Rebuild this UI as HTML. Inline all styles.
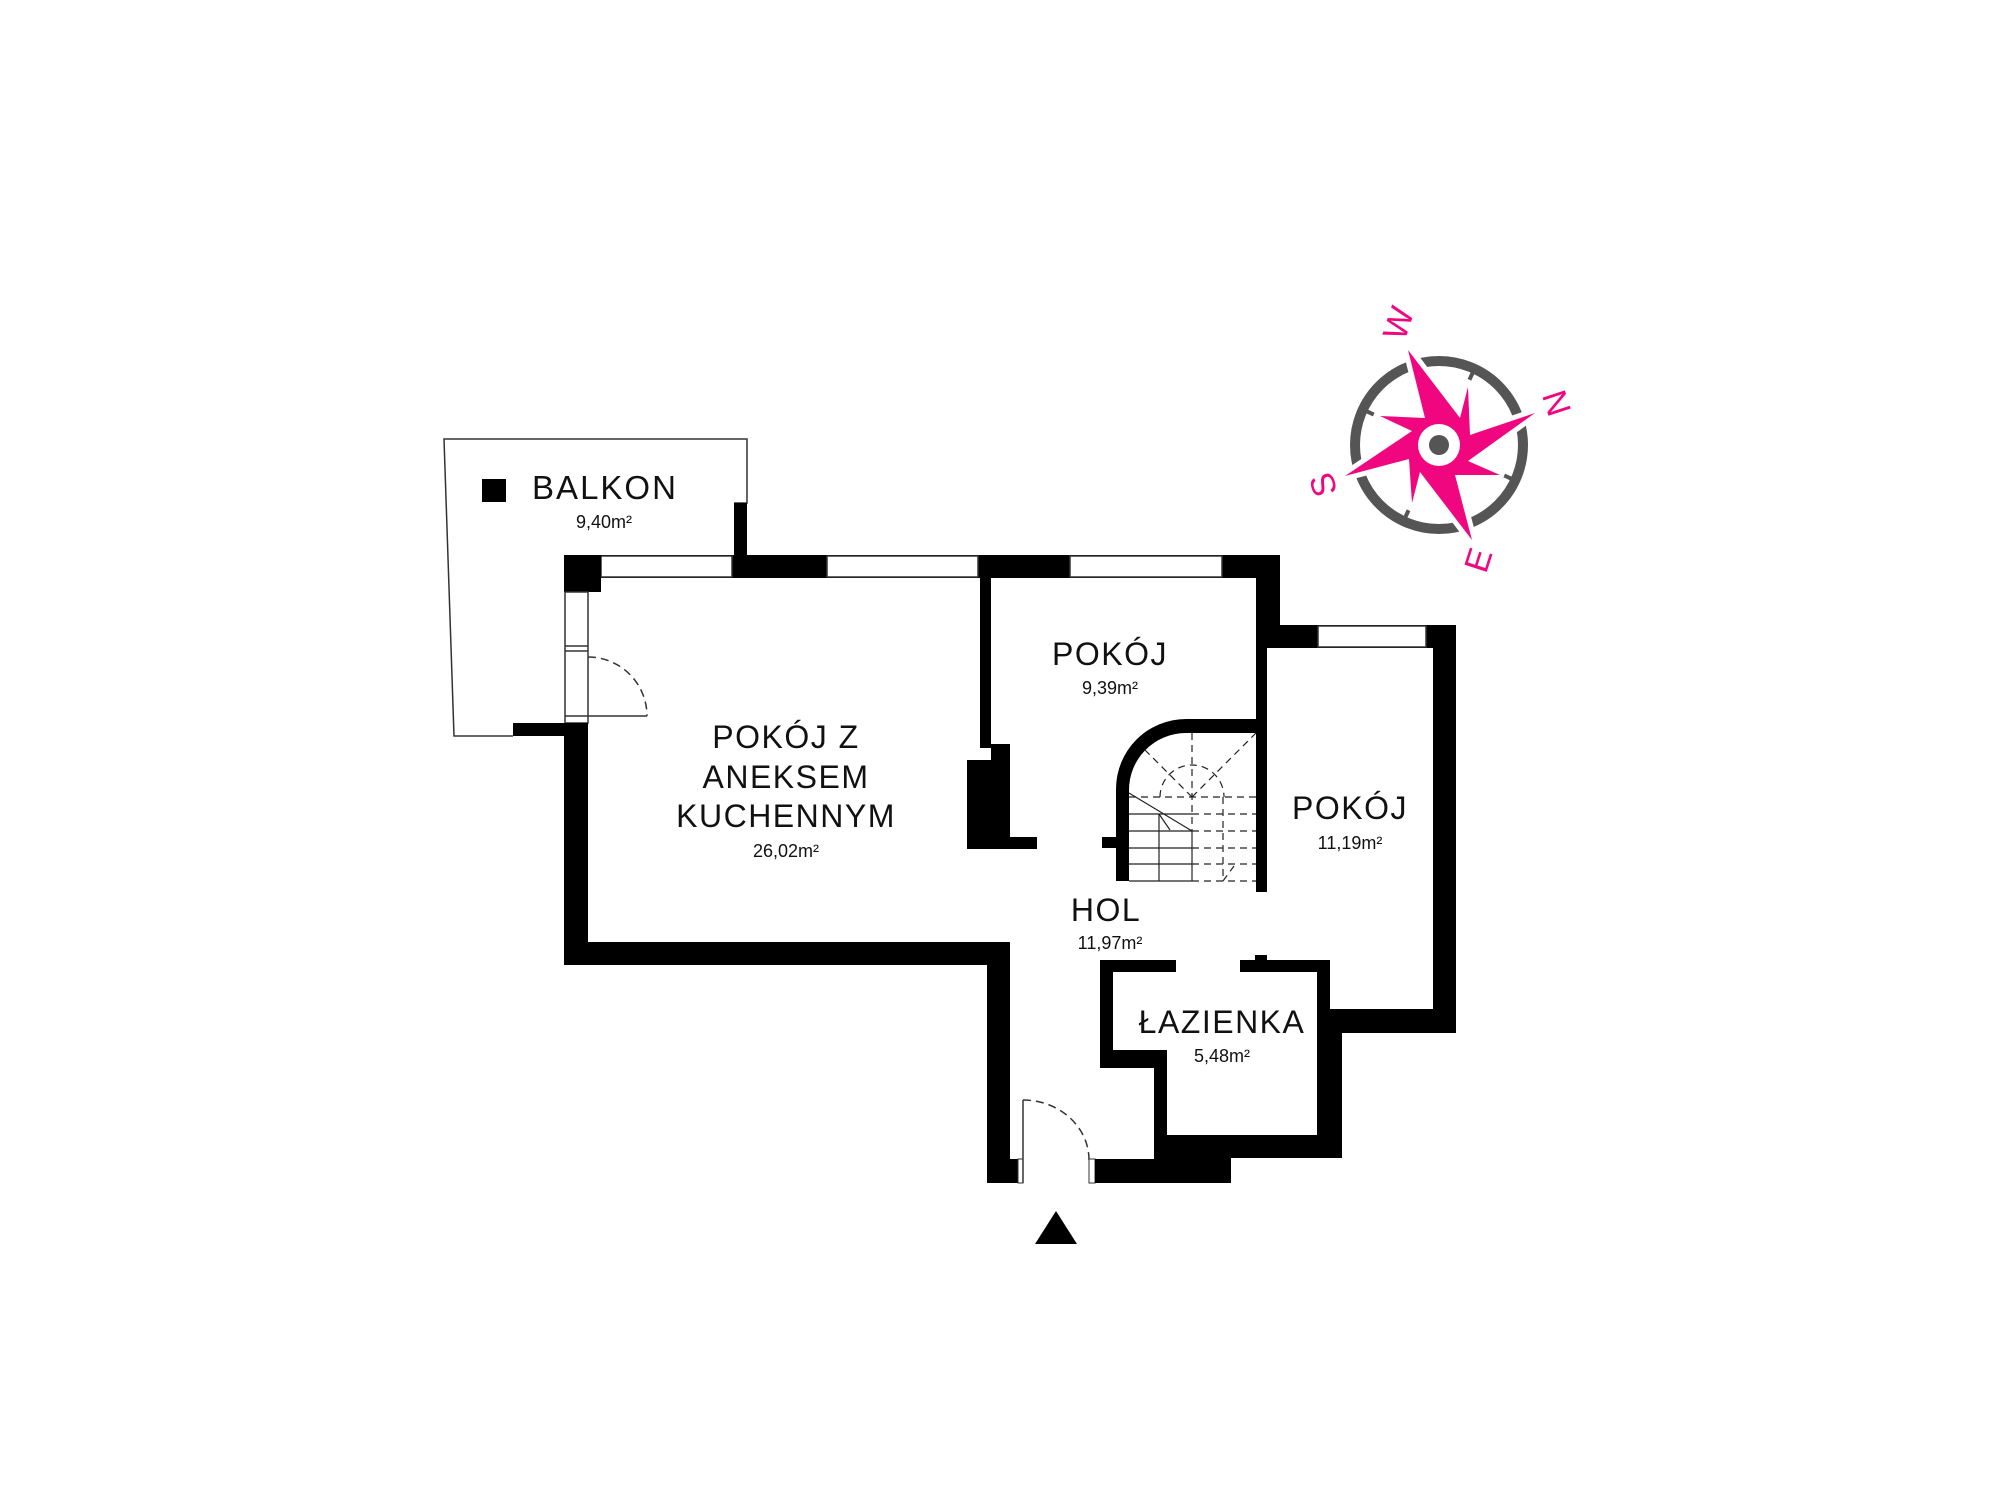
<!DOCTYPE html>
<html><head><meta charset="utf-8"><style>
html,body{margin:0;padding:0;background:#fff;}
svg{display:block}
text{font-family:"Liberation Sans",sans-serif;fill:#111}
</style></head><body>
<svg width="2000" height="1500" viewBox="0 0 2000 1500" xmlns="http://www.w3.org/2000/svg">
<rect width="2000" height="1500" fill="#fff"/>
<polyline points="734,503 747,503 747,439 444,439 454,736 513,736" fill="none" stroke="#333" stroke-width="1.5"/>
<rect x="734" y="503" width="13" height="52" fill="#000"/>
<rect x="513" y="723" width="51" height="13" fill="#000"/>
<rect x="564" y="555" width="716" height="23" fill="#000"/>
<rect x="601" y="556" width="131" height="21" fill="#fff" stroke="#333" stroke-width="1.5"/>
<rect x="827" y="556" width="151" height="21" fill="#fff" stroke="#333" stroke-width="1.5"/>
<rect x="1070" y="556" width="152" height="21" fill="#fff" stroke="#333" stroke-width="1.5"/>
<rect x="564" y="555" width="37" height="37" fill="#000"/>
<rect x="565" y="592" width="23" height="131" fill="#fff" stroke="#333" stroke-width="1.5"/>
<line x1="565" y1="646" x2="588" y2="646" stroke="#333" stroke-width="1.5"/>
<line x1="565" y1="651" x2="588" y2="651" stroke="#333" stroke-width="1.5"/>
<line x1="565" y1="716" x2="647" y2="716" stroke="#333" stroke-width="1.5"/>
<path d="M588,657 A59,59 0 0 1 647,716" fill="none" stroke="#333" stroke-width="1.5" stroke-dasharray="8,5"/>
<rect x="564" y="723" width="24" height="242" fill="#000"/>
<rect x="564" y="942" width="446" height="23" fill="#000"/>
<rect x="987" y="942" width="23" height="241" fill="#000"/>
<rect x="987" y="1159" width="31" height="24" fill="#000"/>
<rect x="1018" y="1159" width="5" height="24" fill="#fff" stroke="#333" stroke-width="1"/>
<line x1="1023" y1="1100" x2="1023" y2="1183" stroke="#333" stroke-width="1.5"/>
<path d="M1023,1100 A66,60 0 0 1 1089,1160" fill="none" stroke="#333" stroke-width="1.5" stroke-dasharray="8,5"/>
<rect x="1089" y="1159" width="6" height="24" fill="#fff" stroke="#333" stroke-width="1"/>
<rect x="1095" y="1159" width="136" height="24" fill="#000"/>
<polygon points="1056,1211 1035,1244 1077,1244" fill="#000"/>
<rect x="980" y="578" width="11" height="170" fill="#000"/>
<rect x="991" y="744" width="19" height="105" fill="#000"/>
<rect x="967" y="760" width="43" height="89" fill="#000"/>
<rect x="1010" y="837" width="27" height="12" fill="#000"/>
<rect x="1256" y="555" width="24" height="93" fill="#000"/>
<rect x="1256" y="625" width="200" height="23" fill="#000"/>
<rect x="1318" y="626" width="108" height="21" fill="#fff" stroke="#333" stroke-width="1.5"/>
<rect x="1256" y="625" width="11" height="267" fill="#000"/>
<rect x="1433" y="625" width="23" height="408" fill="#000"/>
<rect x="1330" y="1009" width="126" height="24" fill="#000"/>
<path d="M1116,881 L1116,789 A70,70 0 0 1 1186,719 L1256,719 L1256,733 L1186,733 A57,57 0 0 0 1129,790 L1129,881 Z" fill="#000"/>
<rect x="1102" y="837" width="14" height="11" fill="#000"/>
<g stroke="#222" stroke-width="1.2" fill="none">
<line x1="1129" y1="814" x2="1192" y2="814"/><line x1="1129" y1="831" x2="1192" y2="831"/>
<line x1="1129" y1="848" x2="1192" y2="848"/><line x1="1129" y1="864" x2="1192" y2="864"/>
<line x1="1129" y1="881" x2="1192" y2="881"/>
<line x1="1159" y1="814" x2="1159" y2="881"/>
<line x1="1192" y1="831" x2="1192" y2="881"/>
<line x1="1129" y1="793" x2="1192" y2="831"/>
<line x1="1159" y1="814" x2="1170" y2="830"/>
</g>
<g stroke="#222" stroke-width="1.2" fill="none" stroke-dasharray="7,5">
<line x1="1129" y1="797" x2="1256" y2="797"/>
<line x1="1192" y1="814" x2="1256" y2="814"/><line x1="1192" y1="831" x2="1256" y2="831"/>
<line x1="1192" y1="848" x2="1256" y2="848"/><line x1="1192" y1="864" x2="1256" y2="864"/>
<line x1="1192" y1="881" x2="1256" y2="881"/>
<line x1="1192" y1="733" x2="1192" y2="831"/>
<line x1="1223" y1="797" x2="1223" y2="881"/>
<line x1="1192" y1="797" x2="1145" y2="750"/>
<line x1="1192" y1="797" x2="1256" y2="733"/>
<path d="M1160,797 A32,32 0 0 1 1224,797"/>
<line x1="1223" y1="881" x2="1234" y2="866"/>
</g>
<rect x="1100" y="960" width="76" height="12" fill="#000"/>
<rect x="1240" y="960" width="90" height="12" fill="#000"/>
<rect x="1255" y="955" width="12" height="6" fill="#000"/>
<path d="M1100,960 L1113,960 L1113,1050 L1167,1050 L1167,1135 L1317,1135 L1317,960 L1330,960 L1330,1009 L1342,1009 L1342,1158 L1231,1158 L1231,1183 L1154,1183 L1154,1068 L1100,1068 Z" fill="#000"/>
<rect x="482" y="479" width="24" height="23" fill="#000"/>
<text x="605" y="499" font-size="33" text-anchor="middle" letter-spacing="2">BALKON</text>
<text x="604" y="528" font-size="18" text-anchor="middle">9,40m²</text>
<text x="786" y="748" font-size="32" text-anchor="middle" letter-spacing="1.5">POKÓJ Z</text>
<text x="786" y="788" font-size="32" text-anchor="middle" letter-spacing="1.5">ANEKSEM</text>
<text x="786" y="827" font-size="32" text-anchor="middle" letter-spacing="1.5">KUCHENNYM</text>
<text x="786" y="857" font-size="18" text-anchor="middle">26,02m²</text>
<text x="1110" y="665" font-size="32" text-anchor="middle" letter-spacing="1.5">POKÓJ</text>
<text x="1110" y="694" font-size="18" text-anchor="middle">9,39m²</text>
<text x="1350" y="819" font-size="32" text-anchor="middle" letter-spacing="1.5">POKÓJ</text>
<text x="1350" y="849" font-size="18" text-anchor="middle">11,19m²</text>
<text x="1106" y="921" font-size="32" text-anchor="middle" letter-spacing="1.5">HOL</text>
<text x="1110" y="949" font-size="18" text-anchor="middle">11,97m²</text>
<text x="1222" y="1033" font-size="32" text-anchor="middle" letter-spacing="1.5">ŁAZIENKA</text>
<text x="1222" y="1062" font-size="18" text-anchor="middle">5,48m²</text>
<g>
<circle cx="1439" cy="445" r="84" fill="none" stroke="#555" stroke-width="10"/>
<g stroke="#555" stroke-width="4">
<line x1="1439" y1="361" x2="1439" y2="373" transform="rotate(-20 1439 445)"/>
<line x1="1439" y1="361" x2="1439" y2="373" transform="rotate(25 1439 445)"/>
<line x1="1439" y1="361" x2="1439" y2="373" transform="rotate(115 1439 445)"/>
<line x1="1439" y1="361" x2="1439" y2="373" transform="rotate(160 1439 445)"/>
<line x1="1439" y1="361" x2="1439" y2="373" transform="rotate(205 1439 445)"/>
<line x1="1439" y1="361" x2="1439" y2="373" transform="rotate(250 1439 445)"/>
<line x1="1439" y1="361" x2="1439" y2="373" transform="rotate(295 1439 445)"/>
<line x1="1439" y1="361" x2="1439" y2="373" transform="rotate(70 1439 445)"/>
</g>
<polygon points="1408,350 1460,418 1468,387 1470,435 1535,413 1468,461 1500,475 1455,475 1472,540 1420,472 1412,503 1409,459 1345,476 1412,431 1380,416 1425,418" fill="#fff" stroke="#fff" stroke-width="10"/>
<polygon points="1408,350 1460,418 1468,387 1470,435 1535,413 1468,461 1500,475 1455,475 1472,540 1420,472 1412,503 1409,459 1345,476 1412,431 1380,416 1425,418" fill="#f0077f"/>
<circle cx="1439" cy="445" r="21" fill="#fff"/>
<circle cx="1439" cy="445" r="10" fill="#555"/>
<g font-size="34" text-anchor="middle">
<text x="1398" y="335" transform="rotate(-72 1398 323)" style="fill:#f0077f">W</text>
<text x="1557" y="415" transform="rotate(72 1557 403)" style="fill:#f0077f">N</text>
<text x="1323" y="497" transform="rotate(-108 1323 485)" style="fill:#f0077f">S</text>
<text x="1478" y="572" transform="rotate(-72 1478 560)" style="fill:#f0077f">E</text>
</g>
</g>
</svg>
</body></html>
